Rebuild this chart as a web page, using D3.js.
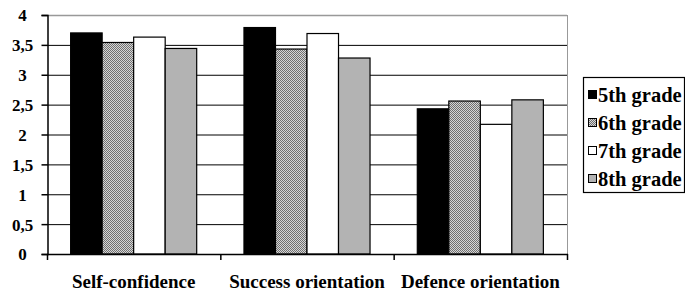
<!DOCTYPE html>
<html>
<head>
<meta charset="utf-8">
<script src="https://cdn.jsdelivr.net/npm/d3@7"></script>
<style>
  body { margin: 0; background: #fff; }
  svg { display: block; }
</style>
</head>
<body>
<svg id="chart" width="685" height="292"></svg>
<script>
// donnees du graphique
const categories = ["Self-confidence", "Success orientation", "Defence orientation"];
const grades = ["5th grade", "6th grade", "7th grade", "8th grade"];
const grade5 = [3.70, 3.79, 2.43];
const grade6 = [3.54, 3.43, 2.56];
const grade7 = [3.63, 3.69, 2.17];
const grade8 = [3.44, 3.28, 2.58];
const yTicks = [0, 0.5, 1, 1.5, 2, 2.5, 3, 3.5, 4];

const seriesValues = [grade5, grade6, grade7, grade8];

const serif = "'Liberation Serif', 'Times New Roman', serif";
const svg = d3.select("#chart");
const plotLeft = 47, plotRight = 567, plotTop = 15, plotBottom = 254;

// motif pour la serie 6th grade
const defs = svg.append("defs");
const pat = defs.append("pattern")
    .attr("id", "dots")
    .attr("width", 2)
    .attr("height", 2)
    .attr("patternUnits", "userSpaceOnUse");
pat.append("rect").attr("width", 2).attr("height", 2).attr("fill", "#d6d6d6");
pat.append("rect").attr("width", 1).attr("height", 1).attr("fill", "#707070");
pat.append("rect").attr("x", 1).attr("y", 1).attr("width", 1).attr("height", 1).attr("fill", "#707070");

const fills = ["#000000", "url(#dots)", "#ffffff", "#b3b3b3"];

const x = d3.scaleBand().domain(categories).range([plotLeft, plotRight]).padding(0);
const xInner = d3.scaleBand().domain(grades).range([0, x.bandwidth()])
    .paddingInner(0).paddingOuter(0.75);
const y = d3.scaleLinear().domain([0, 4]).range([plotBottom, plotTop]);

// lignes de grille
svg.append("g")
    .selectAll("line")
    .data(yTicks.filter(d => d > 0 && d < 4))
    .enter()
    .append("line")
    .attr("x1", plotLeft).attr("x2", plotRight)
    .attr("y1", d => y(d) + 0.5).attr("y2", d => y(d) + 0.5)
    .attr("stroke", "#000")
    .attr("stroke-width", 1);

// bordure grise du cadre
svg.append("line")
    .attr("x1", plotLeft).attr("x2", plotRight)
    .attr("y1", y(4) + 0.5).attr("y2", y(4) + 0.5)
    .attr("stroke", "#999").attr("stroke-width", 1.5);
svg.append("line")
    .attr("x1", plotRight + 0.5).attr("x2", plotRight + 0.5)
    .attr("y1", y(4)).attr("y2", y(0))
    .attr("stroke", "#999").attr("stroke-width", 1);

// barres
const rows = [];
categories.forEach((c, ci) => {
    grades.forEach((g, gi) => {
        rows.push({ cat: c, grade: g, gi: gi, value: seriesValues[gi][ci] });
    });
});

svg.append("g")
    .selectAll("rect")
    .data(rows)
    .enter()
    .append("rect")
    .attr("x", d => x(d.cat) + xInner(d.grade))
    .attr("y", d => y(d.value))
    .attr("width", xInner.bandwidth())
    .attr("height", d => y(0) - y(d.value))
    .attr("fill", d => fills[d.gi])
    .attr("stroke", "#000")
    .attr("stroke-width", 1.2);

// axe Y
const yAxis = d3.axisLeft(y).tickValues(yTicks).tickSize(6).tickPadding(0)
    .tickFormat(d => String(d).replace(".", ","));
const gy = svg.append("g")
    .attr("transform", `translate(${plotLeft + 0.5},0)`)
    .call(yAxis);
gy.select(".domain").attr("stroke", "#000").attr("stroke-width", 1.5);
gy.selectAll(".tick line").attr("stroke", "#000").attr("stroke-width", 1.5);
gy.selectAll(".tick text")
    .attr("x", 22 - plotLeft)
    .attr("text-anchor", "middle")
    .attr("dy", "0.35em")
    .attr("fill", "#000")
    .style("font-family", serif)
    .style("font-size", "17px")
    .style("font-weight", "bold");

// axe X
const boundaries = categories.map(c => x(c)).concat([plotRight]);
svg.append("line")
    .attr("x1", plotLeft).attr("x2", plotRight + 1)
    .attr("y1", plotBottom + 0.5).attr("y2", plotBottom + 0.5)
    .attr("stroke", "#000").attr("stroke-width", 1.5);
svg.append("g")
    .selectAll("line")
    .data(boundaries)
    .enter()
    .append("line")
    .attr("x1", d => d + 0.5).attr("x2", d => d + 0.5)
    .attr("y1", plotBottom).attr("y2", plotBottom + 6)
    .attr("stroke", "#000").attr("stroke-width", 1.5);

svg.append("g")
    .selectAll("text")
    .data(categories)
    .enter()
    .append("text")
    .attr("x", d => x(d) + x.bandwidth() / 2)
    .attr("y", 288)
    .attr("text-anchor", "middle")
    .style("font-family", serif)
    .style("font-size", "19px")
    .style("font-weight", "bold")
    .text(d => d);

// legende
const legend = svg.append("g");
legend.append("rect")
    .attr("x", 583.5).attr("y", 77.5)
    .attr("width", 101).attr("height", 115)
    .attr("fill", "#fff")
    .attr("stroke", "#000").attr("stroke-width", 1.2);

const legendItems = legend.selectAll(".legendItem")
    .data(grades)
    .enter()
    .append("g")
    .attr("class", "legendItem")
    .attr("transform", (d, i) => `translate(588, ${95 + i * 28})`);

legendItems.append("rect")
    .attr("x", 0.5).attr("y", -4.5)
    .attr("width", 8).attr("height", 8)
    .attr("fill", (d, i) => fills[i])
    .attr("stroke", "#000").attr("stroke-width", 1);

legendItems.append("text")
    .attr("x", 10)
    .attr("y", 0)
    .attr("dy", "0.33em")
    .style("font-family", serif)
    .style("font-size", "20.5px")
    .style("font-weight", "bold")
    .text(d => d);
</script>
</body>
</html>
